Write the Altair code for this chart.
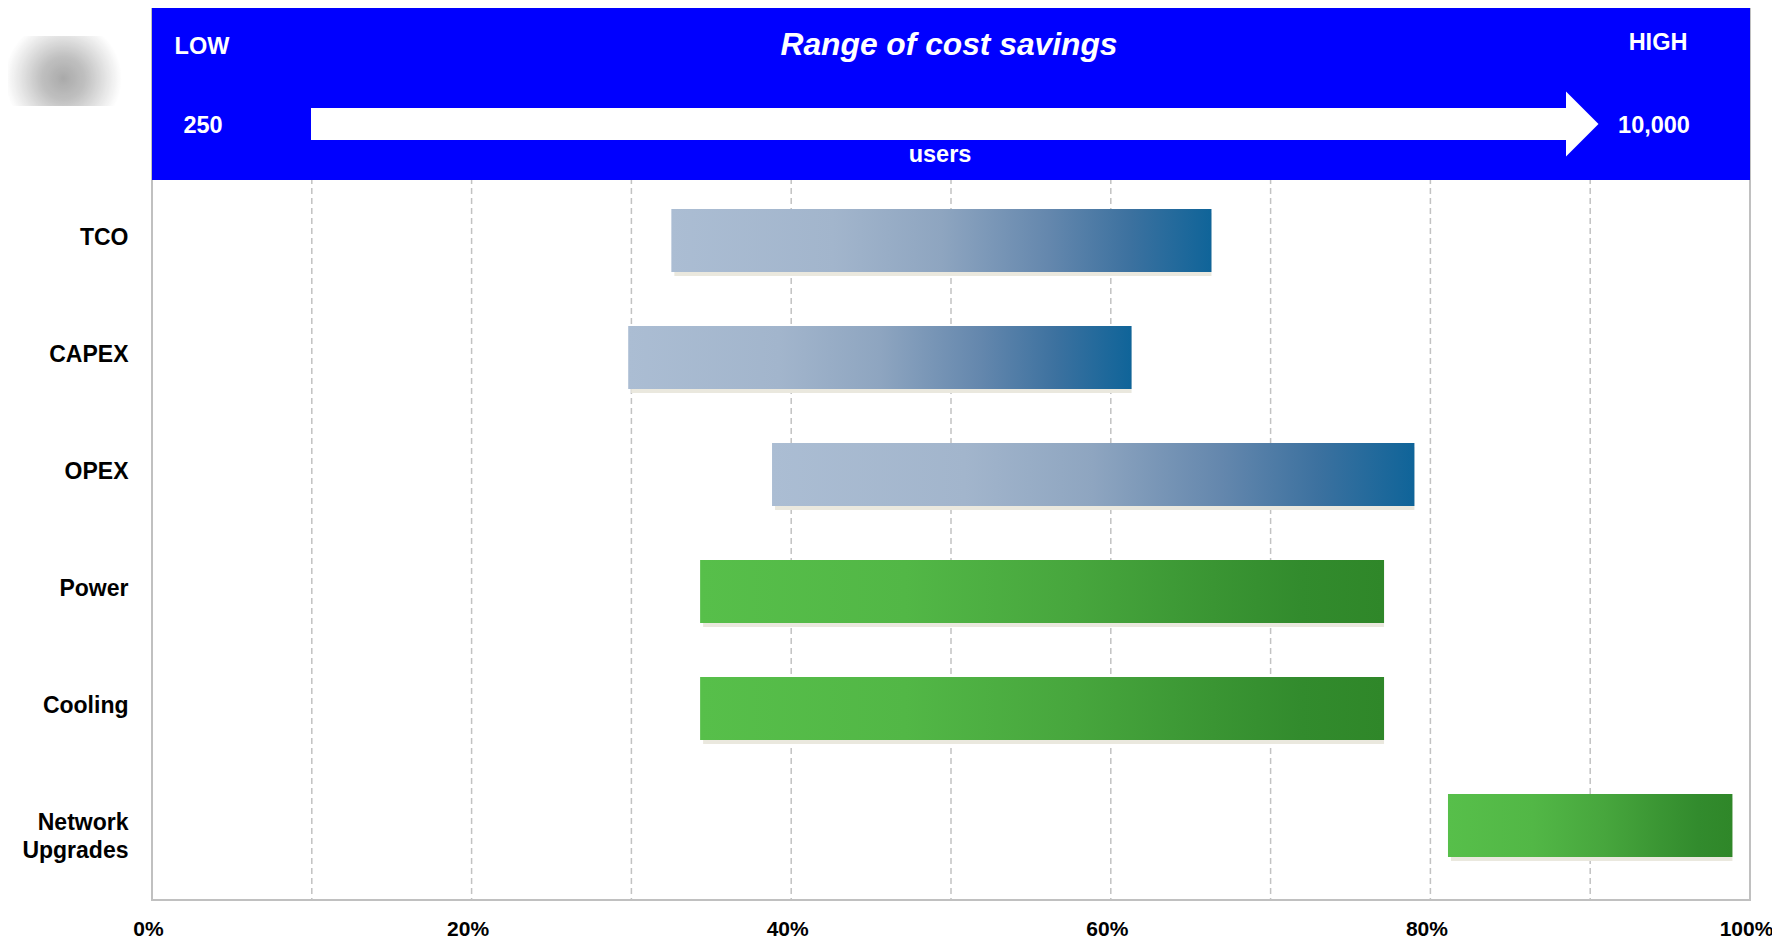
import altair as alt
import pandas as pd

# ---- data ----
categories = ["TCO", "CAPEX", "OPEX", "Power", "Cooling", "Network Upgrades"]
low_pct = [32.5, 29.8, 38.8, 34.3, 34.3, 81.1]
high_pct = [66.3, 61.3, 79.0, 77.1, 77.1, 98.9]
groups = ["cost", "cost", "cost", "energy", "energy", "energy"]
tick_values = [0, 10, 20, 30, 40, 50, 60, 70, 80, 90, 100]
grid_values = [10, 20, 30, 40, 50, 60, 70, 80, 90]

header_title = "Range of cost savings"
header_low = "LOW"
header_high = "HIGH"
users_low = "250"
users_high = "10,000"
users_label = "users"

df = pd.DataFrame({"category": categories, "low": low_pct, "high": high_pct, "group": groups})
grid_df = pd.DataFrame({"pct": grid_values})

W = 1598
H = 892
FONT = "Liberation Sans"
BAR = 63

blue_grad = alt.Gradient(
    gradient="linear", x1=0, x2=1, y1=0, y2=0,
    stops=[
        alt.GradientStop(offset=0.0, color="#abbdd3"),
        alt.GradientStop(offset=0.3, color="#a2b5cc"),
        alt.GradientStop(offset=0.5, color="#8ea5c0"),
        alt.GradientStop(offset=0.7, color="#6487ad"),
        alt.GradientStop(offset=0.85, color="#3c719f"),
        alt.GradientStop(offset=1.0, color="#0f6499"),
    ],
)
green_grad = alt.Gradient(
    gradient="linear", x1=0, x2=1, y1=0, y2=0,
    stops=[
        alt.GradientStop(offset=0.0, color="#57bf4a"),
        alt.GradientStop(offset=0.3, color="#52b746"),
        alt.GradientStop(offset=0.55, color="#47a63d"),
        alt.GradientStop(offset=0.75, color="#3a9533"),
        alt.GradientStop(offset=0.88, color="#328b2d"),
        alt.GradientStop(offset=1.0, color="#2f8729"),
    ],
)
blur_grad = alt.Gradient(
    gradient="radial", x1=0.42, y1=0.55, r1=0, x2=0.42, y2=0.55, r2=0.5,
    stops=[
        alt.GradientStop(offset=0.0, color="#a0a0a0"),
        alt.GradientStop(offset=0.3, color="#b9b9b9"),
        alt.GradientStop(offset=0.6, color="#e4e4e4"),
        alt.GradientStop(offset=0.8, color="#ffffff"),
        alt.GradientStop(offset=1.0, color="#ffffff"),
    ],
)

x_scale = alt.Scale(domain=[0, 100], nice=False, zero=False)

x_enc = alt.X(
    "low:Q",
    scale=x_scale,
    axis=alt.Axis(
        values=tick_values,
        labelExpr="datum.value % 20 === 0 ? datum.value + '%' : ''",
        grid=False, domain=False, ticks=False, title=None,
        labelFont=FONT, labelFontSize=21, labelFontWeight="bold", labelColor="#000000",
        labelBaseline="alphabetic", labelPadding=35, labelOffset=-4, labelFlush=False,
    ),
)
y_enc = alt.Y(
    "category:N",
    sort=categories,
    scale=alt.Scale(range=[174, 876], paddingInner=0, paddingOuter=0),
    axis=alt.Axis(
        title=None, domain=False, ticks=False, grid=False,
        labelExpr=(
            "datum.label == 'Network Upgrades' ? ['Network', 'Upgrades'] : "
            "(datum.label == 'TCO' ? datum.label + '\u00a0\u00a0' : "
            "(indexof(['Power', 'Cooling'], datum.label) >= 0 ? datum.label + '\u00a0' : datum.label))"
        ),
        labelFont=FONT, labelFontSize=23, labelFontWeight="bold", labelColor="#000000",
        labelAlign="right", labelPadding=24, labelLineHeight=28, labelOffset=-3,
    ),
)

grid = alt.Chart(grid_df).mark_rule(
    color="#c2c2c2", strokeWidth=1.5, strokeDash=[6, 4]
).encode(x=alt.X("pct:Q", scale=x_scale), y=alt.value(0), y2=alt.value(H))

base = alt.Chart(df).encode(x=x_enc, x2="high:Q", y=y_enc)

shadow = base.mark_bar(size=BAR, color="#eae8de", xOffset=3, yOffset=4)
blue_bars = base.transform_filter(alt.datum.group == "cost").mark_bar(size=BAR, color=blue_grad)
green_bars = base.transform_filter(alt.datum.group == "energy").mark_bar(size=BAR, color=green_grad)

one = alt.Data(values=[{}])

blur = alt.Chart(one).mark_rect(color=blur_grad, opacity=0.9).encode(
    x=alt.value(-150), x2=alt.value(-4), y=alt.value(28), y2=alt.value(98)
)
header = alt.Chart(one).mark_rect(color="#0000ff").encode(
    x=alt.value(0), x2=alt.value(W), y=alt.value(0), y2=alt.value(172)
)
shaft = alt.Chart(one).mark_rect(color="#ffffff").encode(
    x=alt.value(159), x2=alt.value(1414), y=alt.value(100), y2=alt.value(132)
)
head = alt.Chart(one).mark_point(
    shape="M 0 -1 L 1 0 L 0 1 Z", filled=True, fill="#ffffff", opacity=1, strokeWidth=0, size=4225
).encode(x=alt.value(1414), y=alt.value(116))


def htext(txt, x, y, size=23.5, style="normal"):
    return alt.Chart(one).mark_text(
        text=txt, font=FONT, fontSize=size, fontWeight="bold", fontStyle=style,
        color="#ffffff", align="center", baseline="alphabetic",
    ).encode(x=alt.value(x), y=alt.value(y))


texts = [
    htext(header_low, 50, 46),
    htext(header_high, 1506, 42),
    htext(header_title, 797, 47, size=31.75, style="italic"),
    htext(users_low, 51, 125),
    htext(users_high, 1502, 125),
    htext(users_label, 788, 154),
]

chart = alt.layer(grid, shadow, blue_bars, green_bars, blur, header, shaft, head, *texts).properties(
    width=W,
    height=H,
    autosize=alt.AutoSizeParams(type="none"),
    padding={"left": 144, "top": 0, "right": 22, "bottom": 40},
    background="#ffffff",
).configure_view(
    stroke="#c0c0c0", strokeWidth=2, fill="#ffffff"
)

chart.save("out.html", embed_options={"renderer": "svg", "actions": False})
